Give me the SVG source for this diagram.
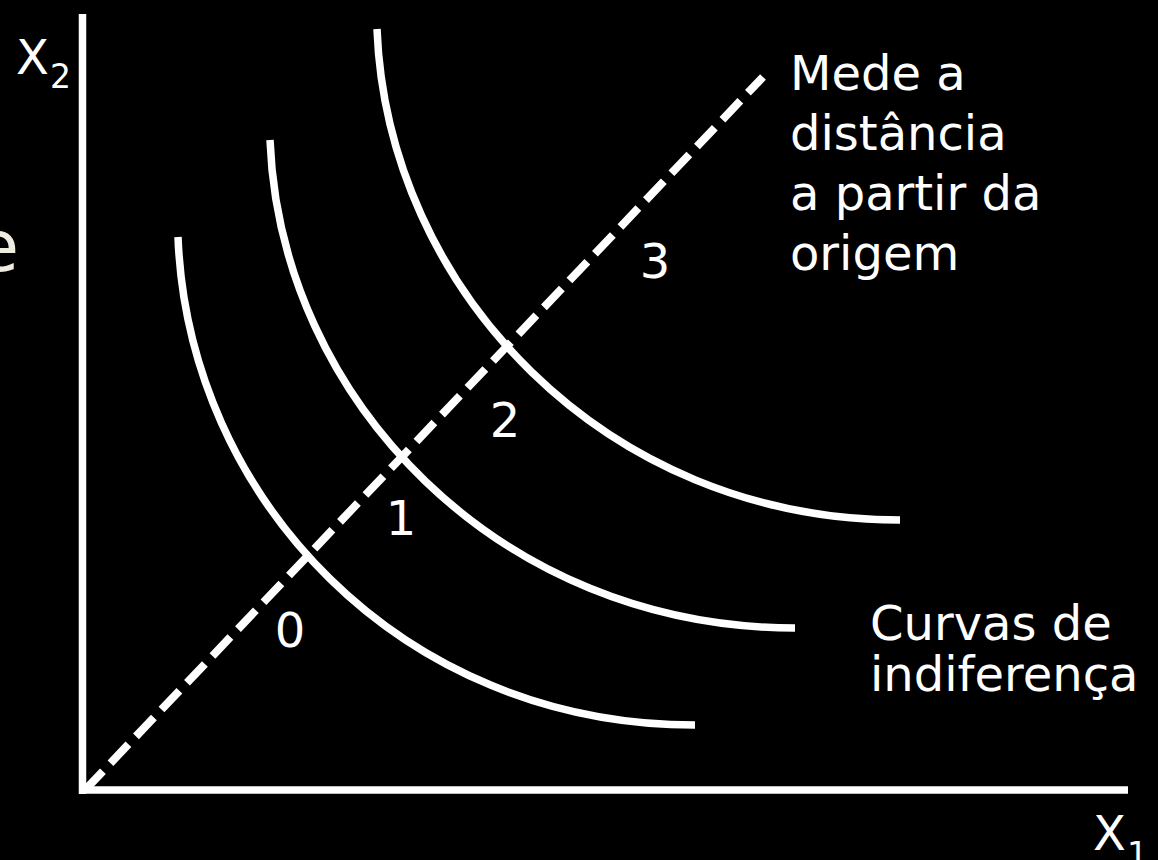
<svg xmlns="http://www.w3.org/2000/svg" width="1158" height="860" viewBox="0 0 1158 860">
  <style>
    .ln { fill: none; stroke: #ffffff; stroke-width: 7.5; }
    .dash { fill: none; stroke: #ffffff; stroke-width: 8; stroke-dasharray: 26 11; }
    .t { font-family: "DejaVu Sans", "Liberation Sans", sans-serif; fill: #ffffff; font-size: 48px; }
    .sub { font-size: 33px; }
  </style>
  <rect x="0" y="0" width="1158" height="860" fill="#000000"/>
  <g id="axes">
    <line class="ln" x1="82.5" y1="14" x2="82.5" y2="794" stroke-width="8"/>
    <line class="ln" x1="79" y1="790" x2="1128" y2="790" stroke-width="8"/>
  </g>
  <g id="connectors">
    <line class="dash" x1="85" y1="790" x2="763" y2="77"/>
  </g>
  <g id="curves">
    <path id="curve0" class="ln" d="M178,237 C188,497 400,725 695,725"/>
    <path id="curve1" class="ln" d="M270,140 C280,400 500,628 795,628"/>
    <path id="curve2" class="ln" d="M377,29 C387,289 605,520 900,520"/>
  </g>
  <g id="labels">
    <text class="t" x="19" y="271" text-anchor="end" style="fill:#eeece1;font-size:72px">e</text>
    <text class="t" x="16" y="74">X</text>
    <text class="t sub" x="50" y="88">2</text>
    <text class="t" x="1093" y="850">X</text>
    <text class="t sub" x="1127" y="866">1</text>
    <text class="t" x="290" y="647" text-anchor="middle">0</text>
    <text class="t" x="401" y="535" text-anchor="middle">1</text>
    <text class="t" x="505" y="437" text-anchor="middle">2</text>
    <text class="t" x="655" y="278" text-anchor="middle">3</text>
  </g>
  <g id="note-distance">
    <text class="t" x="790" y="90">Mede a</text>
    <text class="t" x="790" y="150">distância</text>
    <text class="t" x="790" y="210">a partir da</text>
    <text class="t" x="790" y="270">origem</text>
  </g>
  <g id="note-curves">
    <text class="t" x="870" y="640">Curvas de</text>
    <text class="t" x="870" y="691">indiferença</text>
  </g>
</svg>
